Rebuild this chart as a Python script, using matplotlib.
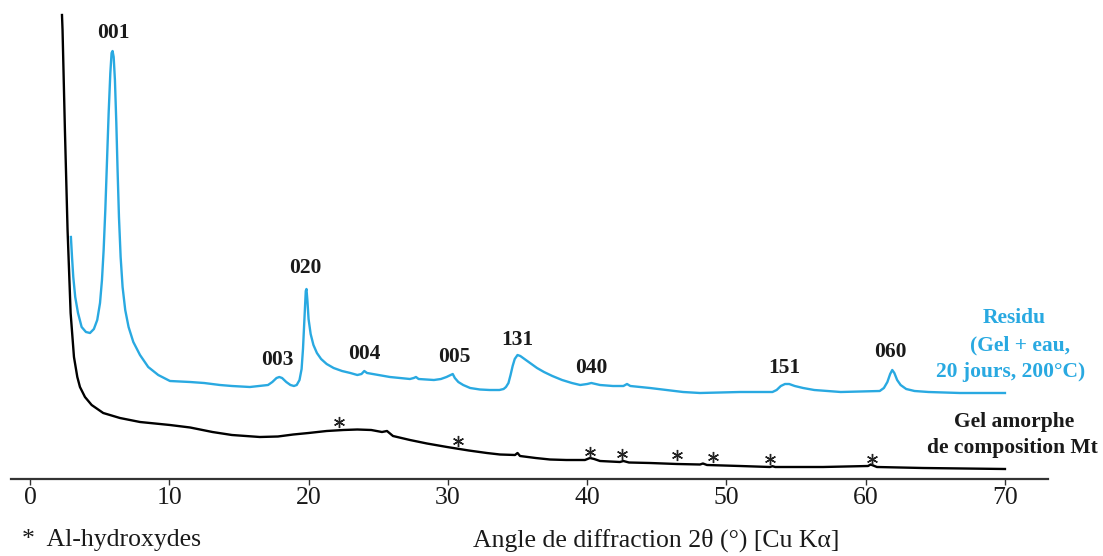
import matplotlib
matplotlib.use("Agg")
import matplotlib.pyplot as plt

# Residu (Gel + eau, 20 jours, 200°C): 2theta (deg) and intensity (a.u.)
residu_2theta = [2.94, 3.02, 3.11, 3.25, 3.45, 3.71, 4.02, 4.31, 4.59, 4.83,
                 5.03, 5.17, 5.29, 5.41, 5.53, 5.65, 5.77, 5.86, 5.93, 6.01,
                 6.10, 6.20, 6.29, 6.39, 6.51, 6.65, 6.84, 7.08, 7.42, 7.90,
                 8.49, 9.21, 10.05, 11.49, 12.5, 13.64, 14.5, 15.79, 17.09,
                 17.4, 17.7, 17.9, 18.1, 18.4, 18.7, 18.95, 19.15, 19.35, 19.5,
                 19.6, 19.7, 19.8, 19.85, 19.92, 20.0, 20.15, 20.35, 20.6, 20.9,
                 21.3, 21.8, 22.4, 23.0, 23.5, 23.8, 24.0, 24.2, 24.6, 25.84,
                 27.28, 27.55, 27.71, 27.9, 29.0, 29.5, 29.9, 30.2, 30.35, 30.5,
                 30.75, 31.1, 31.6, 32.3, 33.0, 33.7, 34.0, 34.17, 34.35, 34.5,
                 34.65, 34.8, 35.0, 35.2, 35.5, 35.9, 36.4, 36.9, 37.5, 38.2,
                 38.9, 39.5, 40.0, 40.3, 40.92, 41.85, 42.6, 42.86, 43.1, 44.51,
                 46.88, 48.10, 50.97, 53.3, 53.6, 53.9, 54.2, 54.5, 54.9, 55.5,
                 56.3, 57.2, 58.2, 61.0, 61.3, 61.55, 61.75, 61.9, 62.05, 62.25,
                 62.5, 62.9, 63.5, 64.5, 66.76, 69.99]
residu_int = [242, 222, 202, 182, 166, 152, 147, 146, 150, 159,
              176, 199, 229, 269, 316, 366, 406, 426, 428, 422,
              399, 356, 309, 262, 222, 192, 169, 152, 137, 124,
              112, 104, 98, 97, 96, 94, 93, 92, 94,
              97, 101, 102, 101, 97, 94, 93, 94, 99, 110,
              130, 160, 188, 190, 178, 160, 145, 134, 126, 120,
              115, 111, 108, 106, 104, 105, 108, 106, 105, 102,
              100, 101, 102, 100, 99, 100, 102, 104, 105, 101,
              97, 94, 91, 89.5, 89, 89, 90, 92, 96, 104,
              113, 120, 124, 123, 120, 116, 111, 107, 103, 99,
              96, 94, 95, 96, 94, 93, 93, 95, 93, 91,
              87, 86, 87, 87, 89, 93, 95, 95, 93, 91,
              89, 88, 87, 88, 91, 97, 105, 109, 106, 99,
              94, 90, 88, 87, 86, 86]

# Gel amorphe de composition Mt
gel_2theta = [2.30, 2.34, 2.51, 2.70, 2.92, 3.16, 3.40, 3.59, 3.95, 4.43,
              5.26, 6.46, 7.90, 10.05, 11.5, 13.1, 14.5, 16.5, 17.8, 18.9,
              20.0, 21.3, 22.5, 23.5, 24.5, 25.27, 25.63, 26.06, 27.28, 28.5,
              29.94, 31.5, 32.8, 33.74, 34.82, 35.0, 35.18, 36.3, 37.33, 38.5,
              39.84, 40.2, 40.5, 40.92, 42.35, 42.6, 43.0, 44.51, 46.45, 48.10,
              48.31, 48.6, 50.97, 53.12, 53.3, 53.5, 56.93, 60.16, 60.35, 60.8,
              64.11, 69.99]
gel_int = [464, 449, 349, 249, 166, 122, 102, 92, 82, 74,
           66, 61, 57, 54, 51.5, 47, 44, 42, 42.5, 44.5,
           46, 48, 49, 49.5, 49, 47, 48, 43, 39, 35.5,
           32, 28.5, 26, 24.5, 24, 26, 23, 21, 19.5, 19,
           19, 21, 20, 18, 17, 18, 16.5, 16, 15, 14.5,
           15.5, 14, 13, 12, 12.8, 12, 12, 13, 14.5, 12,
           11, 10]

# Al-hydroxyde reflections marked on the gel pattern
alhyd_2theta = [22.2, 30.7, 40.2, 42.5, 46.45, 49.0, 53.1, 60.45]
alhyd_int = [57, 38, 27, 25, 24, 22, 20, 20]

# hkl labels of the residue
hkl_labels = ["001", "003", "020", "004", "005", "131", "040", "151", "060"]
hkl_2theta = [5.96, 17.73, 19.74, 23.98, 30.44, 34.96, 40.27, 54.13, 61.74]
hkl_int = [446, 119, 211, 125, 122, 139, 111, 111, 127]

x_ticks = [0, 10, 20, 30, 40, 50, 60, 70]

BLUE = "#29a9e1"
INK = "#1a1a1a"
SERIF = ["Liberation Serif", "DejaVu Serif"]
BOLD_SIZE = 15.5
REG_SIZE = 18.5

fig = plt.figure(figsize=(11.03, 5.56), dpi=100)
ax = fig.add_axes([11 / 1103, 77 / 556, 1037 / 1103, 479 / 556])

ax.plot(residu_2theta, residu_int, color=BLUE, lw=1.7, solid_joinstyle="round")
ax.plot(gel_2theta, gel_int, color="black", lw=1.7, solid_joinstyle="round")
ax.plot(alhyd_2theta, alhyd_int, linestyle="none", marker=(6, 2, 0),
        markersize=8, markeredgewidth=1.0, color="#222222")

for lab, xx, yy in zip(hkl_labels, hkl_2theta, hkl_int):
    ax.text(xx, yy, lab, ha="center", va="center", fontsize=BOLD_SIZE,
            fontweight="bold", family=SERIF, color=INK)

ax.text(70.64, 161, "Residu", ha="center", va="center", fontsize=BOLD_SIZE,
        fontweight="bold", family=SERIF, color=BLUE)
ax.text(71.1, 134, "(Gel + eau,", ha="center", va="center", fontsize=BOLD_SIZE,
        fontweight="bold", family=SERIF, color=BLUE)
ax.text(70.4, 107, "20 jours, 200°C)", ha="center", va="center",
        fontsize=BOLD_SIZE, fontweight="bold", family=SERIF, color=BLUE)
ax.text(70.64, 57, "Gel amorphe", ha="center", va="center", fontsize=BOLD_SIZE,
        fontweight="bold", family=SERIF, color=INK)
ax.text(70.5, 31, "de composition Mt", ha="center", va="center",
        fontsize=BOLD_SIZE, fontweight="bold", family=SERIF, color=INK)

ax.set_xlim(-1.36, 73.08)
ax.set_ylim(0, 479)
ax.set_xticks(x_ticks)
ax.set_xticklabels([str(t) for t in x_ticks], family=SERIF, fontsize=REG_SIZE,
                   color=INK)
ax.set_yticks([])
for side in ("left", "right", "top"):
    ax.spines[side].set_visible(False)
ax.spines["bottom"].set_linewidth(1.6)
ax.spines["bottom"].set_color("#333333")
ax.tick_params(axis="x", direction="out", length=4, width=1.0, pad=2,
               color="#333333")
ax.patch.set_visible(False)

fig.text(22 / 1103, 16 / 556, "*  Al-hydroxydes", ha="left", va="center",
         fontsize=REG_SIZE, family=SERIF, color=INK)
fig.text(656 / 1103, 16 / 556, "Angle de diffraction 2θ (°) [Cu Kα]",
         ha="center", va="center", fontsize=REG_SIZE, family=SERIF, color=INK)

fig.savefig("out.png", dpi=100)
